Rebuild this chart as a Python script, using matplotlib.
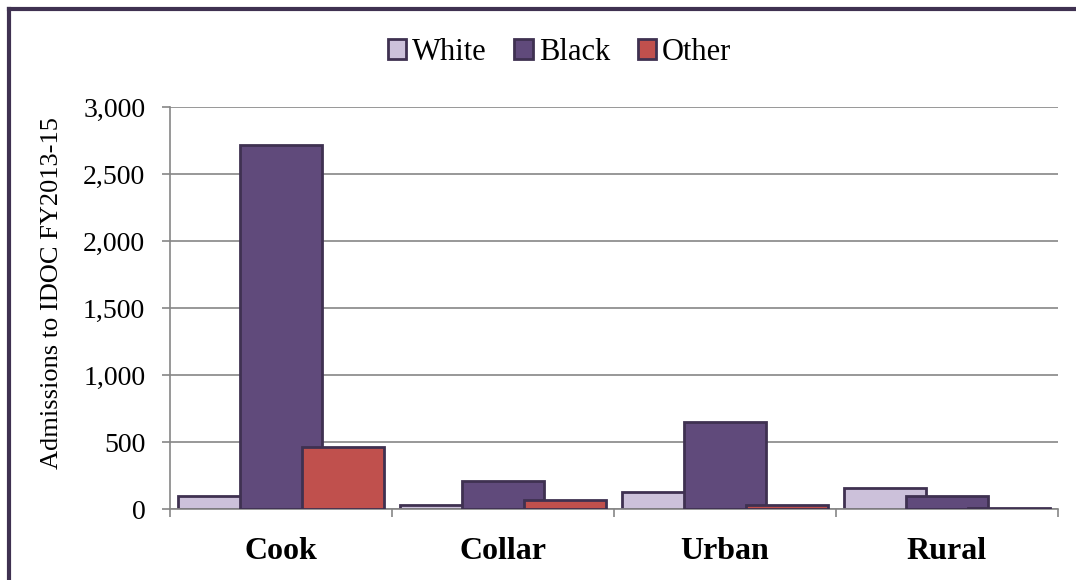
import numpy as np
import matplotlib.pyplot as plt
from matplotlib.patches import Patch
from matplotlib.ticker import FuncFormatter

# donnees
categories = ["Cook", "Collar", "Urban", "Rural"]
series = ["White", "Black", "Other"]
white = [95, 30, 125, 155]
black = [2715, 210, 650, 100]
other = [460, 65, 30, 10]

couleurs = ["#ccc1da", "#604a7b", "#c0504d"]
bord = "#3f3151"
gris = "#868686"

plt.rcParams['font.family'] = ['Liberation Serif', 'DejaVu Serif']

fig = plt.figure(figsize=(10.76, 5.8), dpi=100)
ax = fig.add_axes([0.158, 0.1224, 0.825, 0.6931])

x = np.arange(len(categories))
largeur = 0.37
pas = 0.28
for i, (nom, vals) in enumerate(zip(series, [white, black, other])):
    ax.bar(x + (i - 1) * pas, vals, width=largeur, color=couleurs[i],
           edgecolor=bord, linewidth=2, label=nom, zorder=2 + i)

ax.set_xlim(-0.5, len(categories) - 0.5)
ax.set_ylim(0, 3000)
ax.set_yticks(np.arange(0, 3001, 500))
ax.yaxis.set_major_formatter(FuncFormatter(lambda v, p: f"{int(v):,}"))
ax.yaxis.grid(True, color=gris, linewidth=1.2, zorder=0)
ax.set_axisbelow(True)

ax.set_xticks(x)
ax.set_xticklabels(categories, fontsize=23, fontweight="bold")
ax.set_xticks(np.arange(-0.5, len(categories)), minor=True)
ax.tick_params(axis="x", which="major", length=0, pad=20)
ax.tick_params(axis="x", which="minor", length=6, color=gris, width=1.2)
ax.tick_params(axis="y", length=5.8, color=gris, width=1.2, labelsize=20, pad=12)

for s in ["top", "right"]:
    ax.spines[s].set_visible(False)
for s in ["left", "bottom"]:
    ax.spines[s].set_color(gris)
    ax.spines[s].set_linewidth(1.2)

ax.set_ylabel("Admissions to IDOC FY2013-15", fontsize=19)
ax.yaxis.set_label_coords(-0.12, 0.537)

poignees = [Patch(facecolor=c, edgecolor=bord, linewidth=2) for c in couleurs]
fig.legend(poignees, series, loc="center", bbox_to_anchor=(0.52, 0.91), ncol=3,
           frameon=False, fontsize=22, handlelength=0.6, handleheight=0.6,
           handletextpad=0.2, columnspacing=0.9, borderpad=0)

# cadre partiel (haut et gauche)
fig.add_artist(plt.Line2D([0.008, 1.0], [0.985, 0.985], color=bord, linewidth=3))
fig.add_artist(plt.Line2D([0.008, 0.008], [0.0, 0.985], color=bord, linewidth=3))

fig.savefig("out.png", dpi=100)
